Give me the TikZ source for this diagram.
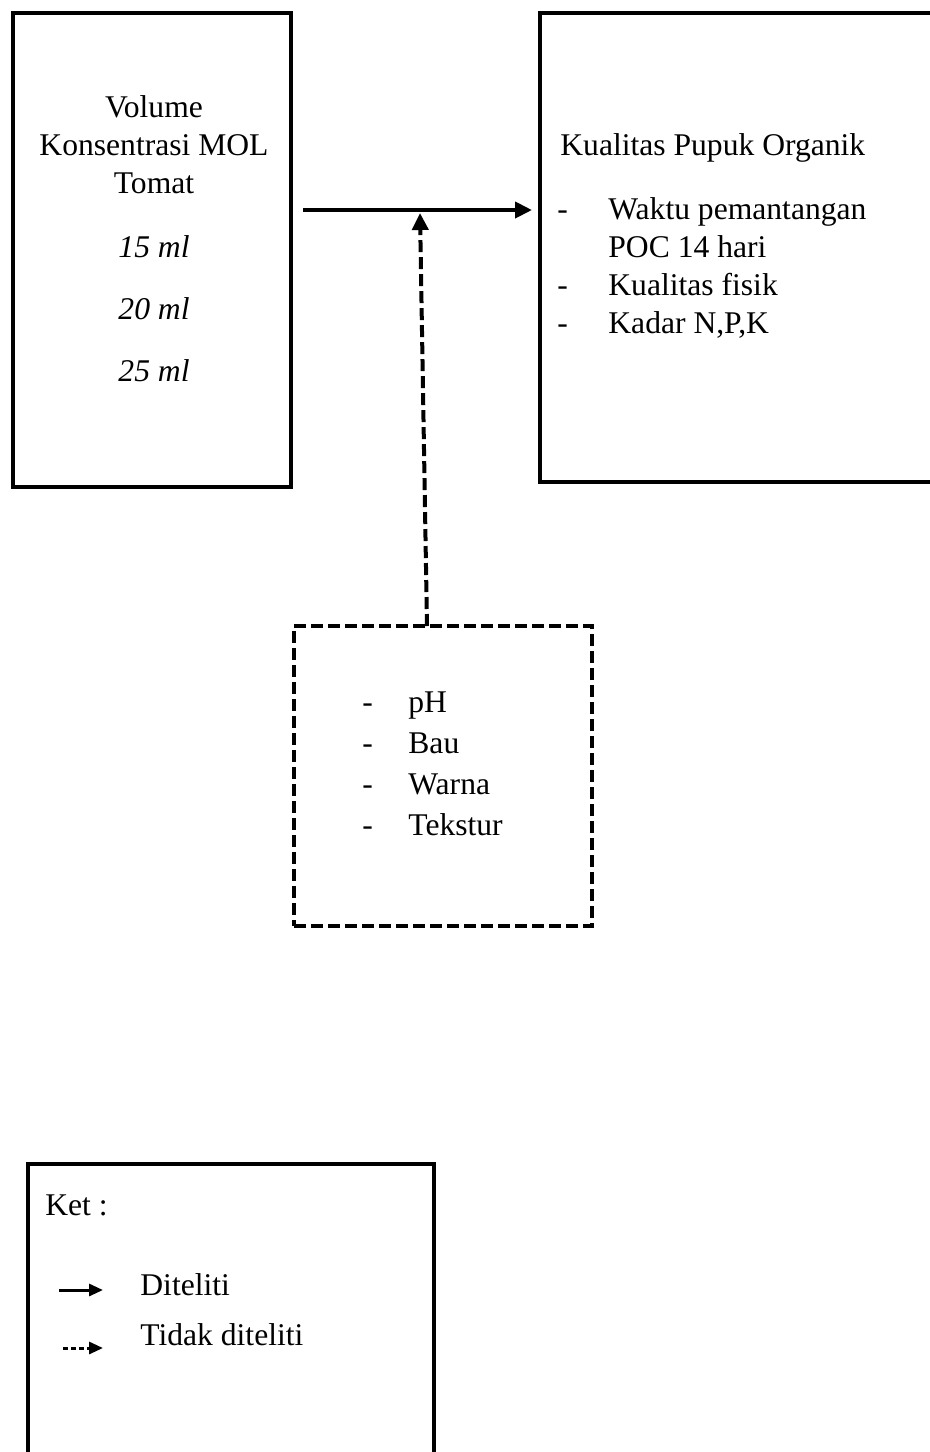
\documentclass[tikz,border=0pt]{standalone}
\usepackage{fontspec}
\setmainfont{Liberation Serif}
\usetikzlibrary{arrows.meta}
\begin{document}
\begin{tikzpicture}[x=0.5pt, y=-0.5pt,
	box/.style={draw, line width=2.25pt, inner sep=0pt, outer sep=0pt},
	dbox/.style={draw, line width=1.75pt, dash pattern=on 6pt off 2.5pt, inner sep=0pt, outer sep=0pt},
	txt/.style={font=\fontsize{15.8}{19}\selectfont, inner sep=0pt, anchor=base},
	item/.style={txt, anchor=base west},
	>={Triangle[length=8.5pt, width=8pt]}]
	    \useasboundingbox (0,0) rectangle (930,1452);
	    % kotak
	    \node[box, minimum width=139pt, minimum height=237pt] (vol) at (152,250) {};
	    \node[box, minimum width=230pt, minimum height=234.5pt] (hasil) at (770,247.5) {};
	    \node[dbox, minimum width=149pt, minimum height=150pt] (sifat) at (443,776) {};
	    \node[box, minimum width=203pt, minimum height=178pt] (ket) at (231,1342) {};
	    % variabel bebas
	    \node[txt] (v1) at (154,117) {Volume};
	    \node[txt] (v2) at (154,155) {Konsentrasi MOL};
	    \node[txt] (v3) at (154,193) {Tomat};
	    \node[txt] (c1) at (154,257) {\itshape 15 ml};
	    \node[txt] (c2) at (154,319) {\itshape 20 ml};
	    \node[txt] (c3) at (154,381) {\itshape 25 ml};
	    % variabel terikat
	    \node[item] (h0) at (560,155) {Kualitas Pupuk Organik};
	    \node[item] (hd1) at (557,219) {-};
	    \node[item] (h1) at (608,219) {Waktu pemantangan};
	    \node[item] (h1b) at (608,257) {POC 14 hari};
	    \node[item] (hd2) at (557,295) {-};
	    \node[item] (h2) at (608,295) {Kualitas fisik};
	    \node[item] (hd3) at (557,333) {-};
	    \node[item] (h3) at (608,333) {Kadar N,P,K};
	    % tidak diteliti
	    \node[item] (sd1) at (362,712) {-};
	    \node[item] (s1) at (408,712) {pH};
	    \node[item] (sd2) at (362,753) {-};
	    \node[item] (s2) at (408,753) {Bau};
	    \node[item] (sd3) at (362,794) {-};
	    \node[item] (s3) at (408,794) {Warna};
	    \node[item] (sd4) at (362,835) {-};
	    \node[item] (s4) at (408,835) {Tekstur};
	    % keterangan
	    \node[item] (k0) at (45,1215) {Ket :};
	    \node[item] (k1) at (140,1295) {Diteliti};
	    \node[item] (k2) at (140,1345) {Tidak diteliti};
	    \coordinate (a1) at (303,210);
	    \coordinate (a2) at (532,210);
	    \coordinate (b1) at (427,626);
	    \coordinate (b2) at (420,213);
	    \coordinate (l1) at (59,1290);
	    \coordinate (l2) at (103,1290);
	    \coordinate (l3) at (63,1348);
	    \coordinate (l4) at (103,1348);
	    \draw[->, line width=2pt] (a1) -- (a2);
	    \draw[->, line width=2pt, dash pattern=on 6pt off 2.5pt] (b1) -- (b2);
	    \draw[-{Triangle[length=7pt, width=6pt]}, line width=1.5pt] (l1) -- (l2);
	    \draw[-{Triangle[length=7pt, width=6pt]}, line width=1.5pt, dash pattern=on 2.5pt off 1.5pt] (l3) -- (l4);
	\end{tikzpicture}
\end{document}
